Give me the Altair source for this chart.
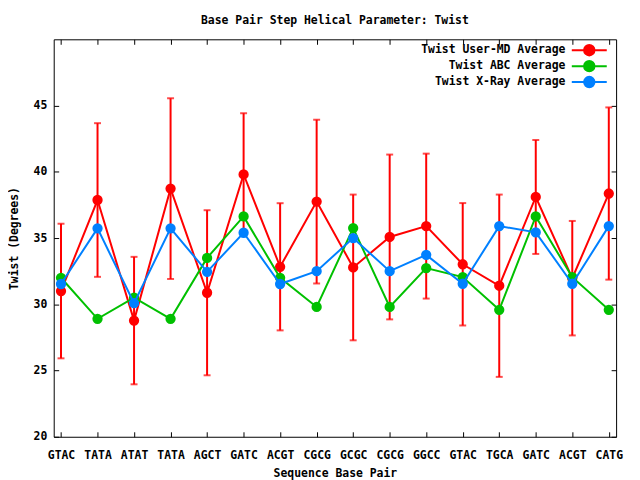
import altair as alt
import pandas as pd

categories = ["GTAC", "TATA", "ATAT", "TATA", "AGCT", "GATC", "ACGT", "CGCG",
              "GCGC", "CGCG", "GGCC", "GTAC", "TGCA", "GATC", "ACGT", "CATG"]
user_md = [31.0, 37.87, 28.77, 38.73, 30.87, 39.8, 32.83, 37.75,
           32.78, 35.08, 35.9, 33.02, 31.4, 38.1, 31.97, 38.36]
user_md_err = [5.08, 5.8, 4.81, 6.82, 6.23, 4.62, 4.8, 6.18,
               5.5, 6.22, 5.47, 4.62, 6.88, 4.3, 4.32, 6.5]
abc = [32.0, 28.9, 30.5, 28.9, 33.5, 36.63, 32.0, 29.8,
       35.75, 29.8, 32.73, 32.05, 29.58, 36.63, 32.05, 29.58]
xray = [31.53, 35.73, 30.08, 35.73, 32.45, 35.4, 31.53, 32.5,
        35.0, 32.5, 33.73, 31.55, 35.9, 35.43, 31.55, 35.9]
series_names = ["Twist User-MD Average", "Twist ABC Average", "Twist X-Ray Average"]
series_colors = ["#ff0000", "#00c000", "#0080ff"]
y_ticks = [20, 25, 30, 35, 40, 45]

rows = []
for name, vals in zip(series_names, [user_md, abc, xray]):
    for i, v in enumerate(vals):
        err = user_md_err[i] if name == series_names[0] else 0.0
        rows.append({"idx": i, "value": v, "series": name,
                     "lo": v - err, "hi": v + err})
df = pd.DataFrame(rows)

W, H = 566, 400
FONT = "DejaVu Sans Mono"
FS = 11.5

xscale = alt.Scale(domain=[-0.2, 15.2], nice=False, zero=False)
yscale = alt.Scale(domain=[20, 50], nice=False, zero=False)
cscale = alt.Scale(domain=series_names, range=series_colors)

label_expr = "[" + ",".join("'%s'" % c for c in categories) + "][datum.value]"

legend = alt.Legend(
    title=None, orient="none", legendX=532.5, legendY=4.5, padding=0,
    symbolType="M-3.2,0L3.2,0M0.95,0A0.95,0.95,0,1,1,-0.95,0A0.95,0.95,0,1,1,0.95,0Z",
    symbolSize=121, symbolStrokeWidth=2, rowPadding={"expr": "-9"},
    labelAlign="right", labelOffset={"expr": "-30.5"}, labelFont=FONT, labelFontSize=FS,
    labelFontWeight="bold", labelColor="black", labelLimit=300,
)

def xe(axis=None):
    return alt.X("idx:Q", scale=xscale, axis=axis)

def ye(axis=None, field="value"):
    return alt.Y(field + ":Q", scale=yscale, axis=axis)

layers = []
red = alt.Chart(df).transform_filter(alt.datum.series == series_names[0])
layers.append(red.mark_rule(color="#ff0000", strokeWidth=2).encode(
    x=xe(), y=ye(field="lo"), y2="hi:Q"))
layers.append(red.mark_tick(color="#ff0000", orient="horizontal", size=7, thickness=2).encode(
    x=xe(), y=ye(field="lo")))
layers.append(red.mark_tick(color="#ff0000", orient="horizontal", size=7, thickness=2).encode(
    x=xe(), y=ye(field="hi")))

for name in series_names:
    sub = alt.Chart(df).transform_filter(alt.datum.series == name)
    layers.append(sub.mark_line(strokeWidth=2).encode(
        x=xe(), y=ye(), stroke=alt.Stroke("series:N", scale=cscale, legend=legend)))
    layers.append(sub.mark_point(filled=True, size=70, opacity=1, strokeWidth=2).encode(
        x=xe(), y=ye(),
        fill=alt.Fill("series:N", scale=cscale, legend=legend),
        stroke=alt.Stroke("series:N", scale=cscale, legend=legend)))

# axes: labels/titles, plus inward ticks on all four sides
lab_x = alt.Axis(orient="bottom", values=list(range(16)), labelExpr=label_expr,
                 ticks=False, tickSize=0, domain=False, grid=False, labelFlush=False,
                 labelPadding=13, labelFont=FONT, labelFontSize=FS, labelFontWeight="bold",
                 labelColor="black", title="Sequence Base Pair", titlePadding=6,
                 titleFont=FONT, titleFontSize=FS, titleFontWeight="bold", titleColor="black")
lab_y = alt.Axis(orient="left", values=y_ticks, ticks=False, tickSize=0, domain=False,
                 grid=False, labelPadding=7, labelFont=FONT, labelFontSize=FS,
                 labelFontWeight="bold", labelColor="black", title="Twist (Degrees)",
                 titlePadding=14, titleFont=FONT, titleFontSize=FS, titleFontWeight="bold",
                 titleColor="black")

def tick_axis(orient, offset, values):
    return alt.Axis(orient=orient, offset={"expr": str(offset)}, values=values, labels=False,
                    domain=False, grid=False, ticks=True, tickSize=5, tickColor="black",
                    tickWidth=1, title=None)

base_ax = alt.Chart(df).mark_point(opacity=0)
layers.append(base_ax.encode(x=xe(lab_x), y=ye(lab_y)))
layers.append(base_ax.encode(x=xe(tick_axis("top", -H, list(range(16)))),
                             y=ye(tick_axis("right", -W, y_ticks))))
layers.append(base_ax.encode(x=xe(tick_axis("bottom", -H, list(range(16)))),
                             y=ye(tick_axis("left", -W, y_ticks))))

chart = alt.layer(*layers).resolve_axis(x="independent", y="independent").properties(
    width=W, height=H,
    autosize=alt.AutoSizeParams(type="none"),
    padding={"left": 46, "top": 30, "right": 16, "bottom": 42},
    title=alt.TitleParams("Base Pair Step Helical Parameter: Twist", font=FONT,
                          fontSize=FS, fontWeight="bold", color="black",
                          anchor="middle", frame="group", baseline="alphabetic", offset=3),
    background="white",
).configure_view(stroke="black", strokeWidth=1)

chart.save("out.html", embed_options={"renderer": "svg", "actions": False})
